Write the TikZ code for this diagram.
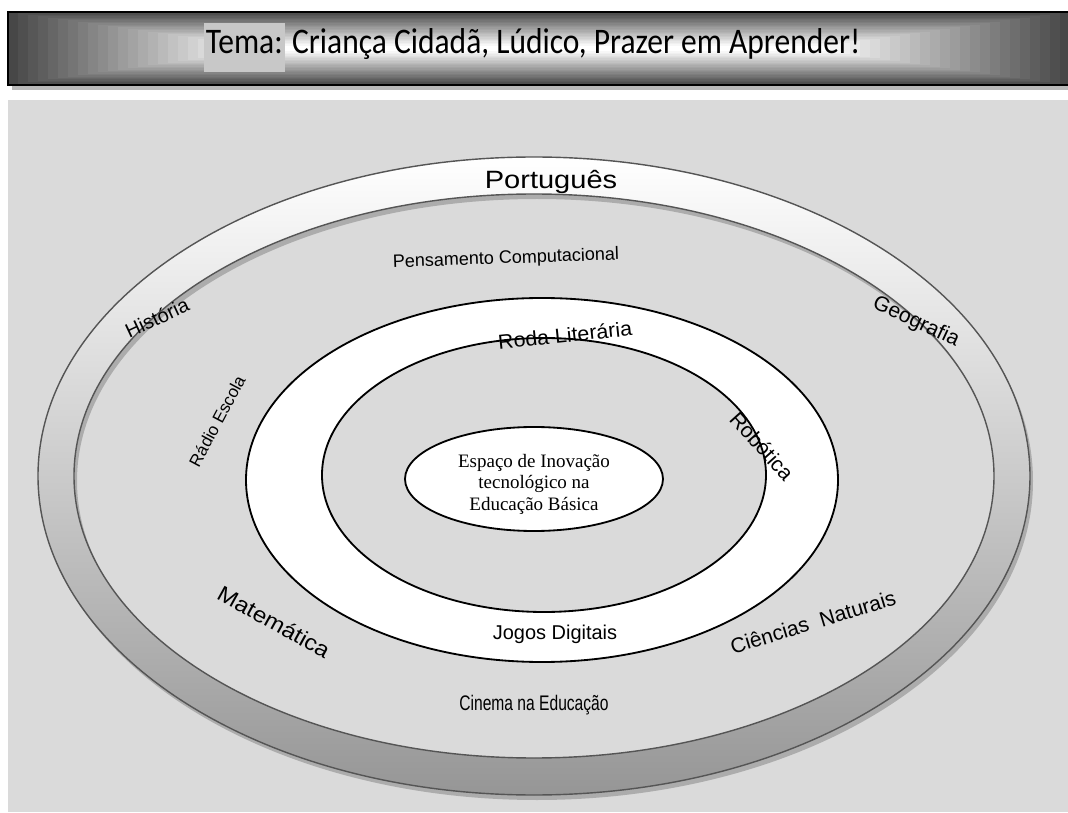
\documentclass[tikz,border=0pt]{standalone}
\usepackage{fontspec}
\setmainfont{Liberation Serif}
\setsansfont{Liberation Sans}
\newfontfamily\headfont{Carlito}

\definecolor{bgtex}{RGB}{218,218,218}
\definecolor{ringline}{RGB}{85,85,85}
\definecolor{ringlow}{RGB}{150,150,150}
\definecolor{ringmid}{RGB}{212,212,212}
\definecolor{ringshadow}{RGB}{172,172,172}
\definecolor{temamark}{RGB}{200,200,200}

\newcommand{\lblfont}[1]{\sffamily\fontsize{#1}{#1}\selectfont}

\begin{document}
\begin{tikzpicture}[x=0.025cm, y=0.025cm,
    subject/.style={inner sep=0pt, anchor=center},
    ringedge/.style={draw=ringline, line width=1pt},
    midedge/.style={draw=black, line width=1.3pt}]
    \useasboundingbox (0,0) rectangle (1068,812);

    % textured background
    \fill[bgtex] (8,0) rectangle (1068,712);

    % header bar
    \fill[gray!55] (12,722) rectangle (1068,727);
    \foreach \i in {0,...,24}{
        \pgfmathtruncatemacro\p{72-3*\i}
        \fill[black!\p] (8+10*\i,727+1.4*\i) rectangle (1070-10*\i,800-1.4*\i);
    }
    \draw[line width=1.4pt] (8,727) rectangle (1070,800);
    \fill[temamark] (204,740) rectangle (285,789);
    \node[anchor=base, inner sep=0pt, xscale=0.875,
          font=\headfont\fontsize{25.6pt}{30pt}\selectfont] (tema) at (533,758)
        {Tema: Criança Cidadã, Lúdico, Prazer em Aprender!};

    % outer ring
    \fill[ringshadow, even odd rule, shift={(3,-5)}]
        (534,336) ellipse [x radius=496, y radius=319]
        (534,336) ellipse [x radius=460, y radius=282];
    \shade[top color=white, middle color=ringmid, bottom color=ringlow, even odd rule]
        (534,336) ellipse [x radius=496, y radius=319]
        (534,336) ellipse [x radius=460, y radius=282];
    \draw[ringedge] (534,336) ellipse [x radius=496, y radius=319];
    \draw[ringedge] (534,336) ellipse [x radius=460, y radius=282];

    % middle ring
    \fill[white, even odd rule]
        (542,332) ellipse [x radius=296, y radius=182]
        (544,337) ellipse [x radius=222, y radius=137];
    \draw[midedge] (542,332) ellipse [x radius=296, y radius=182];
    \draw[midedge] (544,337) ellipse [x radius=222, y radius=137];

    % core
    \draw[midedge, fill=white] (534,333) ellipse [x radius=129, y radius=52];
    \node[align=center, inner sep=0pt,
          font=\rmfamily\fontsize{13.5pt}{15.3pt}\selectfont] (core) at (534,328)
        {Espaço de Inovação\\tecnológico na\\Educação Básica};

    % subjects on the outer ring
    \node[subject, anchor=base, xscale=1.16, font=\lblfont{17.8pt}] (port) at (551,623) {Português};
    \node[subject, rotate=25, font=\lblfont{14.2pt}] (hist) at (157,494) {História};
    \node[subject, rotate=-25, font=\lblfont{15pt}] (geo) at (916,490) {Geografia};
    \node[subject, rotate=-29, xscale=1.1, font=\lblfont{15.6pt}] (mat) at (274,190) {Matemática};
    \node[subject, rotate=17, font=\lblfont{15pt}] (cien) at (813,190) {Ciências\hspace{0.3em} Naturais};

    % projects
    \node[subject, rotate=2, font=\lblfont{12.8pt}] (pens) at (506,553) {Pensamento Computacional};
    \node[subject, rotate=62, font=\lblfont{12.1pt}] (radio) at (217,391) {Rádio Escola};
    \node[subject, anchor=base, xscale=0.74, font=\lblfont{15pt}] (cine) at (534,102) {Cinema na Educação};
    \node[subject, rotate=6, xscale=1.05, font=\lblfont{14.5pt}] (roda) at (565,477) {Roda Literária};
    \node[subject, rotate=-48, font=\lblfont{15pt}] (robo) at (762,366) {Robótica};
    \node[subject, anchor=base, font=\lblfont{14.2pt}] (jogos) at (555,173) {Jogos Digitais};
\end{tikzpicture}
\end{document}
